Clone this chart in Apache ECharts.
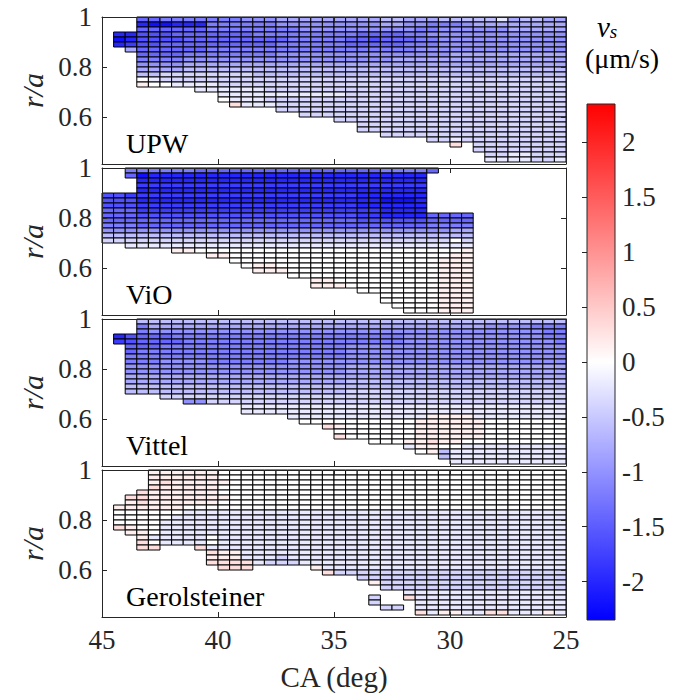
<!DOCTYPE html>
<html><head><meta charset="utf-8">
<script src="https://cdn.jsdelivr.net/npm/echarts@6/dist/echarts.min.js"></script>
<style>html,body{margin:0;padding:0;background:#fff}#c{width:678px;height:696px}</style>
</head><body>
<div id="c"></div>
<script>
// ---------- data ----------
const panelNames = ['UPW', 'ViO', 'Vittel', 'Gerolsteiner'];
const caCenters = [44.75,44.25,43.75,43.25,42.75,42.25,41.75,41.25,40.75,40.25,39.75,39.25,38.75,38.25,37.75,37.25,36.75,36.25,35.75,35.25,34.75,34.25,33.75,33.25,32.75,32.25,31.75,31.25,30.75,30.25,29.75,29.25,28.75,28.25,27.75,27.25,26.75,26.25,25.75,25.25];
const rCenters = [0.99,0.97,0.95,0.93,0.91,0.89,0.87,0.85,0.83,0.81,0.79,0.77,0.75,0.73,0.71,0.69,0.67,0.65,0.63,0.61,0.59,0.57,0.55,0.53,0.51,0.49,0.47,0.45,0.43];
// value codes ('.' = no data)
const levelCodes = 'BA9876543210pqr';
const levelValues = [-2.2,-2.0,-1.8,-1.6,-1.4,-1.2,-1.0,-0.8,-0.6,-0.4,-0.2,0,0.15,0.3,0.5];
const xTicks = [45, 40, 35, 30, 25];
const yTicks = [0.6, 0.8, 1];
const cbTicks = [-2, -1.5, -1, -0.5, 0, 0.5, 1, 1.5, 2];
const cbRange = [-2.35, 2.35];

// rows from r/a = 1 downward: [first column index, codes]
const upwRows = [
 [3, '776666666555444444' + '4443344433333143344'],
 [3, 'ABBAAA666666555555' + '5554455666544444444'],
 [3, '777777666666665555' + '5555556655555544444'],
 [1, 'AA' + '888777777766666666' + '6777766555555555555'],
 [1, 'BA' + '888877777777766666' + '7787776655555555555'],
 [1, 'A9' + '887777777777666666' + '7777766655555555555'],
 [2, '4' + '777777666666666666' + '6666665555555555555'],
 [3, '777766666666555555' + '5555555554444444444'],
 [3, '666655555555555555' + '5555444444444444444'],
 [3, '555544444444444444' + '4444444444444444444'],
 [3, '444433333333333333' + '3333333333333333333'],
 [3, '332222222233333333' + '3333333333333333333'],
 [3, '012222222222222222' + '2222222222222222222'],
 [3, 'p00111122222222222' + '2222222222222222222'],
 [8, '1111112222222' + '2222222222222222222'],
 [10, '11111111111' + '2222222222222222222'],
 [10, '01112222222' + '2222222222222222222'],
 [11, 'q111222222' + '2222222222222222222'],
 [15, '222222' + '2222222222222222222'],
 [17, '2222' + '2222222222222222222'],
 [20, '2' + '2222222222222222222'],
 [22, '222222222222222222'],
 [22, '222222222222222222'],
 [24, '2222222222222222'],
 [28, '221222222222'],
 [30, 'q.22222222'],
 [32, '22222222'],
 [33, '2211222'],
 [33, '1111221']
];
const vioRows = [
 [2, '6' + '66666777777777777777766667'],
 [2, '7' + 'BAAAAAAAAAAAAAAAAAAAAAAAA'],
 [3, 'AAAAAAAAAAAAAAAAAAAAAAAAA'],
 [3, '9999999999999999999999999'],
 [3, 'AAAAAAAAAAAAAAAAAAAAAAAAA'],
 [0, '889' + '9999999999999999999AAAAAA'],
 [0, '888' + 'AAAAAAAAAAAAAAAAAAAAABBBA'],
 [0, '888' + '9999999999999999999AAAAAA'],
 [0, '777' + '999999999999999999999AAAA'],
 [0, '777' + '888888888888888888899AAAA' + '7777'],
 [0, '777' + '7777777777777777777888888' + '7777'],
 [0, '666' + '7777777777777777777777777' + '6666'],
 [0, '555' + '5555555555555555555555555' + '5544'],
 [0, '333' + '3333333333333333333333333' + '3333'],
 [0, '222' + '2222222222222222222222222' + '2202'],
 [2, '1111' + '1111111111111111111111' + '1111'],
 [6, 'pp00000000000000000000' + '000p'],
 [9, 'pp00000000000000000' + '00pp'],
 [11, '00000000000000000' + '0ppp'],
 [12, '0pp0000000000000' + '0ppp'],
 [13, 'ppp000000000000' + '0ppp'],
 [16, '000000000000' + '0ppp'],
 [18, 'pp00000000' + '0ppp'],
 [18, 'ppp0000000' + '0ppp'],
 [22, '000000' + '0ppp'],
 [24, '0000' + '0ppp'],
 [24, '0000' + '0ppp'],
 [25, '000' + '0ppp'],
 [26, '00' + '0ppp']
];
const vittelRows = [
 [3, '333333333333333333' + '3333333333333333333'],
 [3, '644444444444444444' + '4444444444445555666'],
 [3, '655555555555555555' + '5555555555555555566'],
 [1, 'A8' + '777666666666666666' + '6666655555555555566'],
 [1, '98' + '777766666666666666' + '6666655555555555556'],
 [2, '7' + '776666666666666666' + '5555555555555555555'],
 [2, '7' + '666666666666666666' + '5555555555555555555'],
 [2, '6' + '666666666666666666' + '5555555555555555555'],
 [2, '6' + '665555666666655555' + '5555555555555555555'],
 [2, '5' + '555555555555555555' + '4444444444444444444'],
 [2, '5' + '555555555555555555' + '4444444444444444444'],
 [2, '4' + '444444444444444444' + '4444444444444444444'],
 [2, '4' + '444444444444444444' + '3333333333333333333'],
 [2, '3' + '333333333333333333' + '3333333333333333333'],
 [2, '3' + '333333333333333333' + '2222222222222222222'],
 [5, '2222222222222222' + '2222222222222222222'],
 [7, '55222222222222' + '2222222222222222222'],
 [12, '111111111' + '1111111111111111111'],
 [12, '111111111' + '1111111111111111111'],
 [16, '11111' + '1111111pppp11111111'],
 [17, '0000' + '000000pppppp0000000'],
 [19, 'qp' + '000000pppppp0000000'],
 [20, '0' + '000000pppppp0000000'],
 [20, 'q' + '000000pppppp0000000'],
 [23, '000' + 'ppqpp000000000'],
 [26, '1pp00111111111'],
 [27, '0p3' + '1111111111'],
 [29, '3' + '1111111111'],
 [30, '1111111111']
];
const gerolRows = [
 [4, 'pppppp' + '00000000000' + '0000000000000000000'],
 [4, 'pppppp' + '00000000000' + '0000000000000000000'],
 [4, 'pqpppp' + 'p0000000000' + '0000000000000000000'],
 [4, 'qppppp' + '00000000000' + '0000000000000000000'],
 [3, 'q' + 'pppppp' + '00000000000' + '0000000000000000000'],
 [2, 'qq' + 'pppppp' + 'p0000000000' + '0000000000000000000'],
 [2, 'pq' + 'pppppp' + '00000000000' + '0000000000000000000'],
 [1, 'ppp' + 'ppp000' + '00000000000' + '0000000000000000000'],
 [1, '000' + '000111' + '11111111111' + '1111111111111111111'],
 [1, '000' + '001111' + '11111111111' + '1111111111111111111'],
 [1, '000' + '011111' + '11111111111' + '1111111111111111111'],
 [1, 'qp0' + '011111' + '11111111111' + '1111111111111111111'],
 [2, 'pp' + '011111' + '11111111111' + '1111111111111111111'],
 [3, 'p' + '111110' + '11111111111' + '1111111111111111111'],
 [3, 'q' + '011110' + '11111111111' + '1111111111111111111'],
 [3, 'qq...q1' + '11111111111' + '1111111111111111111'],
 [9, 'q' + 'pp111111111' + '1111111111111111111'],
 [9, 'p' + 'pp111211111' + '1111111111111111111'],
 [9, 'q' + 'qqq12221111' + '1111111111111111111'],
 [10, 'qqq' + '.....' + 'p' + '11' + '1111111111111111111'],
 [19, 'q2' + '2222222222222222222'],
 [22, '2' + '22222222222222222'],
 [23, 'p' + '2222222222222222'],
 [24, '22' + '22222222222222'],
 [26, '1' + '1111111111111'],
 [23, '2..q' + '1111111111111'],
 [23, '2...' + '1111111111111'],
 [24, '22.' + '1111111111111'],
 [27, 'q1pp11qq111p1']
];
const panelRows = [upwRows, vioRows, vittelRows, gerolRows];

function decode(rows) {
  const out = [];
  rows.forEach(function (row, i) {
    const start = row[0], s = row[1];
    for (let k = 0; k < s.length; k++) {
      const j = start + k;
      if (j >= caCenters.length) break;
      const ch = s[k];
      if (ch === '.') continue;
      out.push([caCenters[j], rCenters[i], levelValues[levelCodes.indexOf(ch)]]);
    }
  });
  return out;
}

// ---------- layout ----------
const FONT = 'Liberation Serif';
const TXT = '#262626';
const panelTops = [17, 168, 319, 470];
const panelH = 147, panelL = 102, panelW = 464;
const halfW = 0.25, halfH = 0.01;

function buildOption() {
  const grids = [], xAxes = [], yAxes = [], series = [], titles = [];
  panelRows.forEach(function (rows, i) {
    grids.push({left: panelL, top: panelTops[i], width: panelW, height: panelH, show: false});
    const lineStyle = {color: TXT, width: 1};
    const xBase = {
      type: 'value', gridIndex: i, min: 25, max: 45, interval: 5, inverse: true, z: 5,
      axisLine: {show: true, onZero: false, lineStyle: lineStyle},
      axisTick: {show: true, inside: true, length: 5, lineStyle: lineStyle},
      splitLine: {show: false}
    };
    xAxes.push(Object.assign({}, xBase, {
      position: 'bottom',
      axisLabel: {show: i === 3, fontFamily: FONT, fontSize: 27, color: TXT, margin: 9},
      name: i === 3 ? 'CA (deg)' : '', nameLocation: 'middle', nameGap: 45,
      nameTextStyle: {fontFamily: FONT, fontSize: 29, color: TXT}
    }));
    xAxes.push(Object.assign({}, xBase, {position: 'top', axisLabel: {show: false}}));
    const yBase = {
      type: 'value', gridIndex: i, min: 0.412, max: 1, z: 5,
      axisLine: {show: true, onZero: false, lineStyle: lineStyle},
      axisTick: {show: true, inside: true, length: 5, lineStyle: lineStyle, customValues: yTicks},
      splitLine: {show: false}
    };
    yAxes.push(Object.assign({}, yBase, {
      position: 'left',
      axisLabel: {show: true, customValues: yTicks, fontFamily: FONT, fontSize: 27, color: TXT, margin: 10},
      name: 'r/a', nameLocation: 'middle', nameGap: 46, nameRotate: 90,
      nameTextStyle: {fontFamily: FONT, fontSize: 30, fontStyle: 'italic', color: TXT}
    }));
    yAxes.push(Object.assign({}, yBase, {position: 'right', axisLabel: {show: false}}));
    series.push({
      type: 'custom', name: panelNames[i], xAxisIndex: 2 * i, yAxisIndex: 2 * i,
      encode: {x: 0, y: 1}, progressive: 0,
      data: decode(rows),
      renderItem: function (params, api) {
        const x = api.value(0), y = api.value(1);
        const a = api.coord([x + halfW, y + halfH]);
        const b = api.coord([x - halfW, y - halfH]);
        return {
          type: 'rect',
          shape: {x: Math.min(a[0], b[0]), y: Math.min(a[1], b[1]), width: Math.abs(b[0] - a[0]), height: Math.abs(b[1] - a[1])},
          style: {fill: api.visual('color'), stroke: '#000', lineWidth: 1}
        };
      }
    });
    titles.push({text: panelNames[i], left: 126, top: panelTops[i] + 112, padding: 0, z: 10,
      textStyle: {fontFamily: FONT, fontSize: 28, fontWeight: 'normal', color: '#000'}});
  });

  // colorbar
  grids.push({left: 587, top: 104, width: 28, height: 516, show: false});
  xAxes.push({type: 'value', gridIndex: 4, min: 0, max: 1, show: false});
  yAxes.push({
    type: 'value', gridIndex: 4, min: cbRange[0], max: cbRange[1], position: 'right', z: 5,
    axisLine: {show: false},
    axisTick: {show: true, inside: true, length: 5, customValues: cbTicks, lineStyle: {color: TXT}},
    axisLabel: {show: true, customValues: cbTicks, fontFamily: FONT, fontSize: 27, color: TXT, margin: 7},
    splitLine: {show: false}
  });
  series.push({
    type: 'custom', xAxisIndex: 8, yAxisIndex: 8, data: [[0, 0]], silent: true,
    renderItem: function (params, api) {
      const a = api.coord([0, cbRange[1]]);
      const b = api.coord([1, cbRange[0]]);
      return {
        type: 'rect',
        shape: {x: a[0], y: a[1], width: b[0] - a[0], height: b[1] - a[1]},
        style: {
          fill: new echarts.graphic.LinearGradient(0, 0, 0, 1, [
            {offset: 0, color: '#ff0000'}, {offset: 0.5, color: '#ffffff'}, {offset: 1, color: '#0000ff'}
          ]),
          stroke: TXT, lineWidth: 1
        }
      };
    }
  });

  titles.push({text: '{v|v}{s|s}', left: 597, top: 12, padding: 0, z: 10,
    textStyle: {fontFamily: FONT, fontSize: 29, fontWeight: 'normal', color: '#000',
      rich: {v: {fontFamily: FONT, fontSize: 29, fontStyle: 'italic', color: '#000'},
             s: {fontFamily: FONT, fontSize: 19, fontStyle: 'italic', color: '#000', padding: [10, 0, 0, 0]}}}});
  titles.push({text: '(μm/s)', left: 585, top: 44, padding: 0, z: 10,
    textStyle: {fontFamily: FONT, fontSize: 28, fontWeight: 'normal', color: '#000'}});

  return {
    animation: false,
    backgroundColor: '#fff',
    textStyle: {fontFamily: FONT},
    title: titles,
    grid: grids, xAxis: xAxes, yAxis: yAxes, series: series,
    visualMap: {type: 'continuous', show: false, min: cbRange[0], max: cbRange[1], dimension: 2,
      seriesIndex: [0, 1, 2, 3], inRange: {color: ['#0000ff', '#ffffff', '#ff0000']}}
  };
}

const chart = echarts.init(document.getElementById('c'), null, {renderer: 'svg'});
chart.setOption(buildOption());
function redraw() { chart.setOption(buildOption(), true); }
if (document.fonts && document.fonts.load) {
  Promise.all([
    document.fonts.load('27px "Liberation Serif"'),
    document.fonts.load('italic 27px "Liberation Serif"')
  ]).then(redraw, redraw);
}
</script></body></html>
